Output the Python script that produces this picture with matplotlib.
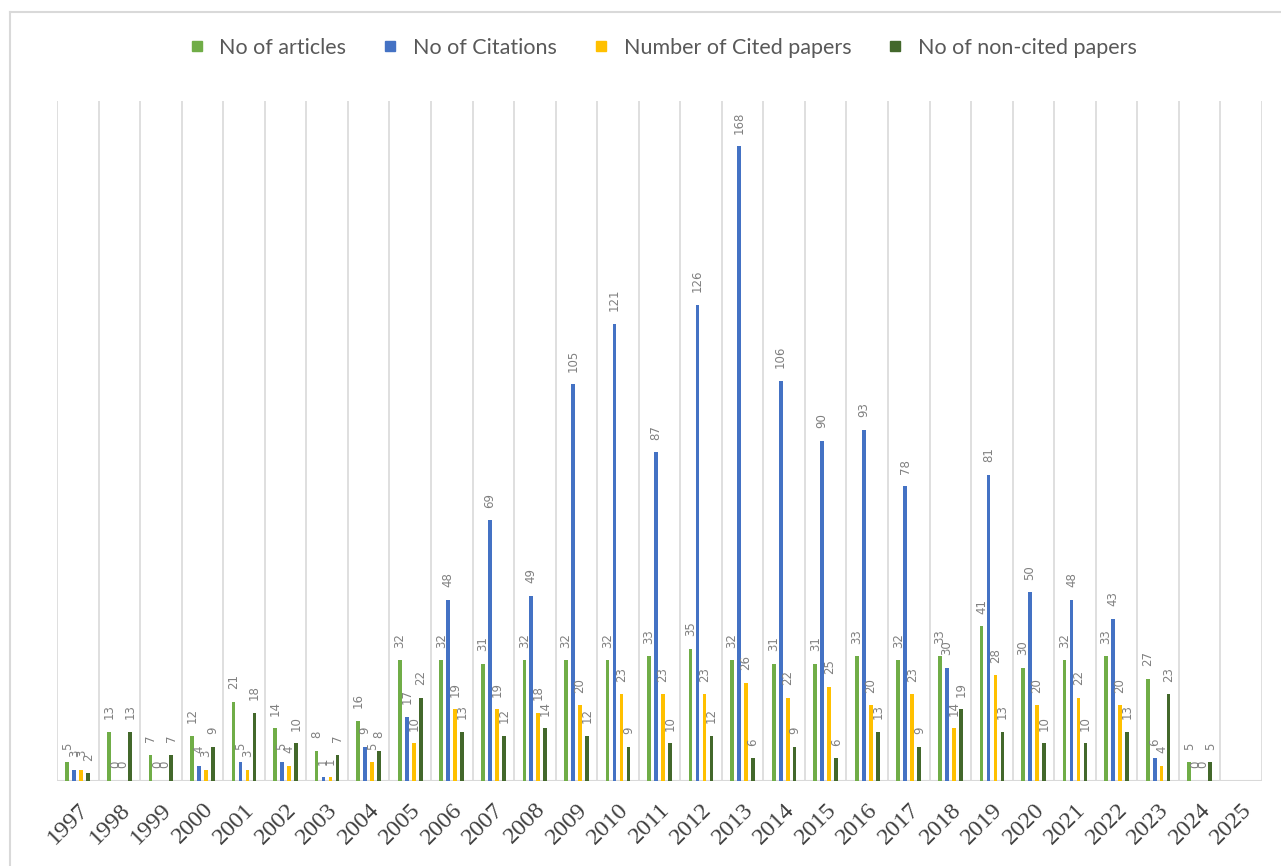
import matplotlib
matplotlib.use("Agg")
import matplotlib.pyplot as plt
import numpy as np
from matplotlib.lines import Line2D

plt.rcParams["font.serif"] = ["Liberation Serif", "DejaVu Serif"]

years = ["1997", "1998", "1999", "2000", "2001", "2002", "2003", "2004", "2005", "2006",
         "2007", "2008", "2009", "2010", "2011", "2012", "2013", "2014", "2015", "2016",
         "2017", "2018", "2019", "2020", "2021", "2022", "2023", "2024", "2025"]
articles = [5, 13, 7, 12, 21, 14, 8, 16, 32, 32, 31, 32, 32, 32, 33, 35, 32, 31, 31, 33,
            32, 33, 41, 30, 32, 33, 27, 5, None]
citations = [3, 0, 0, 4, 5, 5, 1, 9, 17, 48, 69, 49, 105, 121, 87, 126, 168, 106, 90, 93,
             78, 30, 81, 50, 48, 43, 6, 0, None]
cited = [3, 0, 0, 3, 3, 4, 1, 5, 10, 19, 19, 18, 20, 23, 23, 23, 26, 22, 25, 20,
         23, 14, 28, 20, 22, 20, 4, 0, None]
noncited = [2, 13, 7, 9, 18, 10, 7, 8, 22, 13, 12, 14, 12, 9, 10, 12, 6, 9, 6, 13,
            9, 19, 13, 10, 10, 13, 23, 5, None]

series_names = ["No of articles", "No of Citations", "Number of Cited papers", "No of non-cited papers"]
series = [articles, citations, cited, noncited]
colors = ["#70AD47", "#4472C4", "#FFC000", "#43682B"]

W, H = 1281, 866
fig = plt.figure(figsize=(W / 100, H / 100), dpi=100)
ax = fig.add_axes([57 / W, 1 - 781 / H, (1262 - 57) / W, (781 - 101) / H])

x = np.arange(len(years))
pitch = 0.168
bw = 0.09
offsets = (np.arange(4) - 1.5) * pitch

for s, (vals, col, name) in enumerate(zip(series, colors, series_names)):
    for i, v in enumerate(vals):
        if v is None:
            continue
        xx = x[i] + offsets[s]
        ax.bar(xx, v, width=bw, color=col, zorder=3)
        ax.annotate(str(v), (xx, v), xytext=(0, 9), textcoords="offset points",
                    rotation=90, ha="center", va="bottom", fontsize=8.5,
                    color="#808080", zorder=4)

for k in range(len(years) + 1):
    ax.axvline(k - 0.5, color="#D9D9D9", lw=1.2, zorder=1)
ax.axhline(0, color="#D9D9D9", lw=1.5, zorder=2)

ax.set_xlim(-0.5, len(years) - 0.5)
ax.set_ylim(0, 180)
ax.set_yticks([])
for sp in ax.spines.values():
    sp.set_visible(False)
ax.set_xticks(x)
ax.set_xticklabels(years, rotation=45, ha="right", va="top", rotation_mode="anchor",
                   color="#404040", fontfamily="serif", fontsize=17.5)
ax.tick_params(axis="x", length=0, pad=13)

handles = [Line2D([0], [0], marker="s", linestyle="none", markersize=7.5,
                  markerfacecolor=c, markeredgecolor=c) for c in colors]
fig.legend(handles, series_names, loc="center", bbox_to_anchor=(656 / W, 1 - 48 / H),
           ncol=4, frameon=False, handletextpad=0.05, columnspacing=1.05,
           labelcolor="#595959", prop={"family": ["Liberation Sans Narrow", "Lato", "DejaVu Sans"], "size": 15.5})

# outer chart border (top and left)
fig.add_artist(Line2D([10 / W, 1.0], [1 - 12 / H, 1 - 12 / H], color="#D9D9D9", lw=1.5,
                      transform=fig.transFigure))
fig.add_artist(Line2D([10 / W, 10 / W], [1 - 12 / H, 0], color="#D9D9D9", lw=1.5,
                      transform=fig.transFigure))

fig.savefig("out.png", dpi=100)
